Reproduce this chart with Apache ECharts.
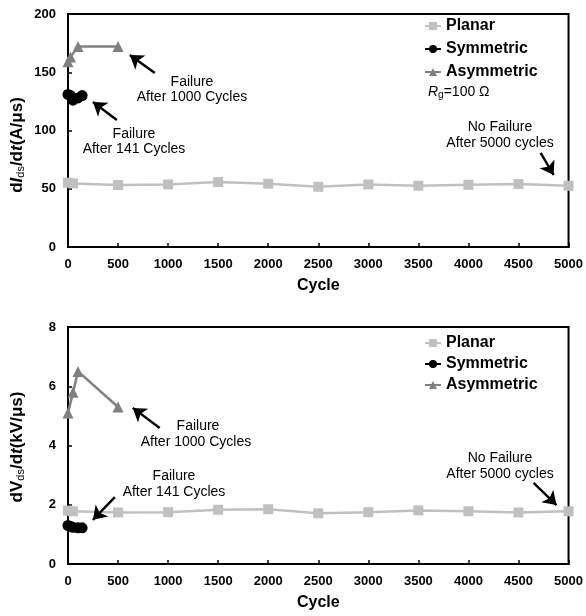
<!DOCTYPE html>
<html><head><meta charset="utf-8">
<script src="https://cdn.jsdelivr.net/npm/echarts@6/dist/echarts.min.js"></script>
<style>html,body{margin:0;padding:0;background:#fff}#c{width:586px;height:616px}</style>
</head><body><div id="c"></div>
<script>
// ---- data ----
const planarCycles = [0, 50, 500, 1000, 1500, 2000, 2500, 3000, 3500, 4000, 4500, 5000];
const planarDI = [55.2, 54.6, 53.2, 53.7, 55.7, 54.3, 51.7, 53.7, 52.6, 53.4, 54, 52.6];
const planarDV = [1.8, 1.78, 1.74, 1.75, 1.83, 1.85, 1.71, 1.75, 1.81, 1.78, 1.74, 1.78];
const symCycles = [0, 25, 50, 100, 141];
const symDI = [131, 130, 126, 128, 130];
const symDV = [1.3, 1.27, 1.24, 1.22, 1.22];
const asymCyclesDI = [0, 25, 100, 500];
const asymDI = [159, 163, 172, 172];
const asymCyclesDV = [0, 50, 100, 500];
const asymDV = [5.1, 5.8, 6.5, 5.3];
const xTicks = [0, 500, 1000, 1500, 2000, 2500, 3000, 3500, 4000, 4500, 5000];

const pair = (xs, ys) => xs.map((x, i) => [x, ys[i]]);
const C_PLANAR = '#c0c0c0', C_SYM = '#000000', C_ASYM = '#808080';
const FONT = 'Liberation Sans, Arial, sans-serif';

function arrows(list) {
  return {
    silent: true, symbol: ['none', 'arrow'], symbolSize: 13,
    lineStyle: { color: '#000', width: 2.4, type: 'solid' },
    itemStyle: { color: '#000' },
    label: { show: false },
    emphasis: { disabled: true },
    data: list.map(a => [{ coord: a[0] }, { coord: a[1] }])
  };
}

const chart = echarts.init(document.getElementById('c'), null, { renderer: 'canvas' });
const axisCommon = {
  axisLine: { show: true, lineStyle: { color: '#000', width: 2 } },
  axisTick: { show: true, inside: true, length: 4, lineStyle: { color: '#000', width: 1.5 } },
  splitLine: { show: false },
  axisLabel: { color: '#000', fontWeight: 'bold', fontSize: 13, fontFamily: FONT }
};
const grids = [
  { left: 68, right: 16, top: 14, height: 233, show: true, borderColor: '#000', borderWidth: 2, backgroundColor: 'transparent' },
  { left: 68, right: 16, top: 327, height: 237, show: true, borderColor: '#000', borderWidth: 2, backgroundColor: 'transparent' }
];
const xAxes = [0, 1].map(i => Object.assign({}, axisCommon, {
  type: 'value', gridIndex: i, min: 0, max: 5000, interval: 500,
  name: 'Cycle', nameLocation: 'middle', nameGap: 31,
  nameTextStyle: { color: '#000', fontWeight: 'bold', fontSize: 16, fontFamily: FONT },
  axisLabel: Object.assign({}, axisCommon.axisLabel, { margin: 11, formatter: v => String(v) })
}));
const yAxes = [
  Object.assign({}, axisCommon, {
    type: 'value', gridIndex: 0, min: 0, max: 200, interval: 50,
    axisLabel: Object.assign({}, axisCommon.axisLabel, { margin: 12 })
  }),
  Object.assign({}, axisCommon, {
    type: 'value', gridIndex: 1, min: 0, max: 8, interval: 2,
    axisLabel: Object.assign({}, axisCommon.axisLabel, { margin: 12 })
  })
];

function ser(name, color, symbol, size, data, gi, extra) {
  return Object.assign({
    name, type: 'line', xAxisIndex: gi, yAxisIndex: gi, data,
    symbol, symbolSize: size, showSymbol: true,
    itemStyle: { color }, lineStyle: { color, width: 2.5 },
    animation: false, z: 3
  }, extra || {});
}

const series = [
  ser('Planar', C_PLANAR, 'rect', 10, pair(planarCycles, planarDI), 0, {
    markLine: arrows([
      [[867, 149.4], [618, 164.8]],
      [[488, 109], [249, 124.5]],
      [[4721, 80.7], [4851, 61.8]]
    ])
  }),
  ser('Symmetric', C_SYM, 'circle', 11, pair(symCycles, symDI), 0),
  ser('Asymmetric', C_ASYM, 'triangle', 11, pair(asymCyclesDI, asymDI), 0),
  ser('Planar', C_PLANAR, 'rect', 10, pair(planarCycles, planarDV), 1, {
    markLine: arrows([
      [[916, 4.59], [647, 5.27]],
      [[468, 2.26], [249, 1.49]],
      [[4651, 2.74], [4880, 1.99]]
    ])
  }),
  ser('Symmetric', C_SYM, 'circle', 11, pair(symCycles, symDV), 1),
  ser('Asymmetric', C_ASYM, 'triangle', 11, pair(asymCyclesDV, asymDV), 1)
];

const legendStyle = { color: '#000', fontWeight: 'bold', fontSize: 16, fontFamily: FONT };

function ctxt(cx, cy, s) {
  return { type: 'text', x: cx, y: cy, style: { text: s, fill: '#000', font: '14px ' + FONT, align: 'center', verticalAlign: 'middle' } };
}
const richName = {
  b: { fontWeight: 'bold', fontSize: 17, fontFamily: FONT, fill: '#000' },
  bi: { fontWeight: 'bold', fontStyle: 'italic', fontSize: 17, fontFamily: FONT, fill: '#000' },
  sub: { fontWeight: 'normal', fontSize: 11, fontFamily: FONT, fill: '#000', padding: [8, 0, 0, 0] }
};
function ytitle(cx, cy, s) {
  return { type: 'text', x: cx, y: cy, rotation: Math.PI / 2,
    style: { text: s, align: 'center', verticalAlign: 'middle', rich: richName } };
}
const graphics = [
  ytitle(17, 145, '{b|d}{bi|I}{sub|ds}{b|/d}{bi|t}{b|(A/μs)}'),
  ytitle(17, 447, '{b|dV}{sub|ds}{b|/d}{bi|t}{b|(kV/μs)}'),
  ctxt(192, 82, 'Failure'), ctxt(192, 97, 'After 1000 Cycles'),
  ctxt(134, 134, 'Failure'), ctxt(134, 149, 'After 141 Cycles'),
  ctxt(500, 127, 'No Failure'), ctxt(500, 143, 'After 5000 cycles'),
  ctxt(198, 426, 'Failure'), ctxt(196, 442, 'After 1000 Cycles'),
  ctxt(174, 476, 'Failure'), ctxt(174, 492, 'After 141 Cycles'),
  ctxt(500, 458, 'No Failure'), ctxt(500, 474, 'After 5000 cycles'),
  { type: 'text', x: 428, y: 92, style: {
      text: '{i|R}{s|g}{n|=100 Ω}', verticalAlign: 'middle',
      rich: {
        i: { fontStyle: 'italic', fontSize: 14, fontFamily: FONT, fill: '#000' },
        s: { fontSize: 10, fontFamily: FONT, fill: '#000', padding: [6, 0, 0, 0] },
        n: { fontSize: 14, fontFamily: FONT, fill: '#000' }
      } } }
];

chart.setOption({
  animation: false,
  backgroundColor: '#fff',
  grid: grids, xAxis: xAxes, yAxis: yAxes, series,
  legend: [
    { left: 424, top: 18, padding: 0, orient: 'vertical', itemGap: 7, itemWidth: 16, itemHeight: 10, textStyle: legendStyle,
      data: ['Planar', 'Symmetric', 'Asymmetric'], selectedMode: false },
    { left: 424, top: 335, padding: 0, orient: 'vertical', itemGap: 5, itemWidth: 16, itemHeight: 10, textStyle: legendStyle,
      data: ['Planar', 'Symmetric', 'Asymmetric'], selectedMode: false }
  ],
  graphic: graphics
});
</script></body></html>
